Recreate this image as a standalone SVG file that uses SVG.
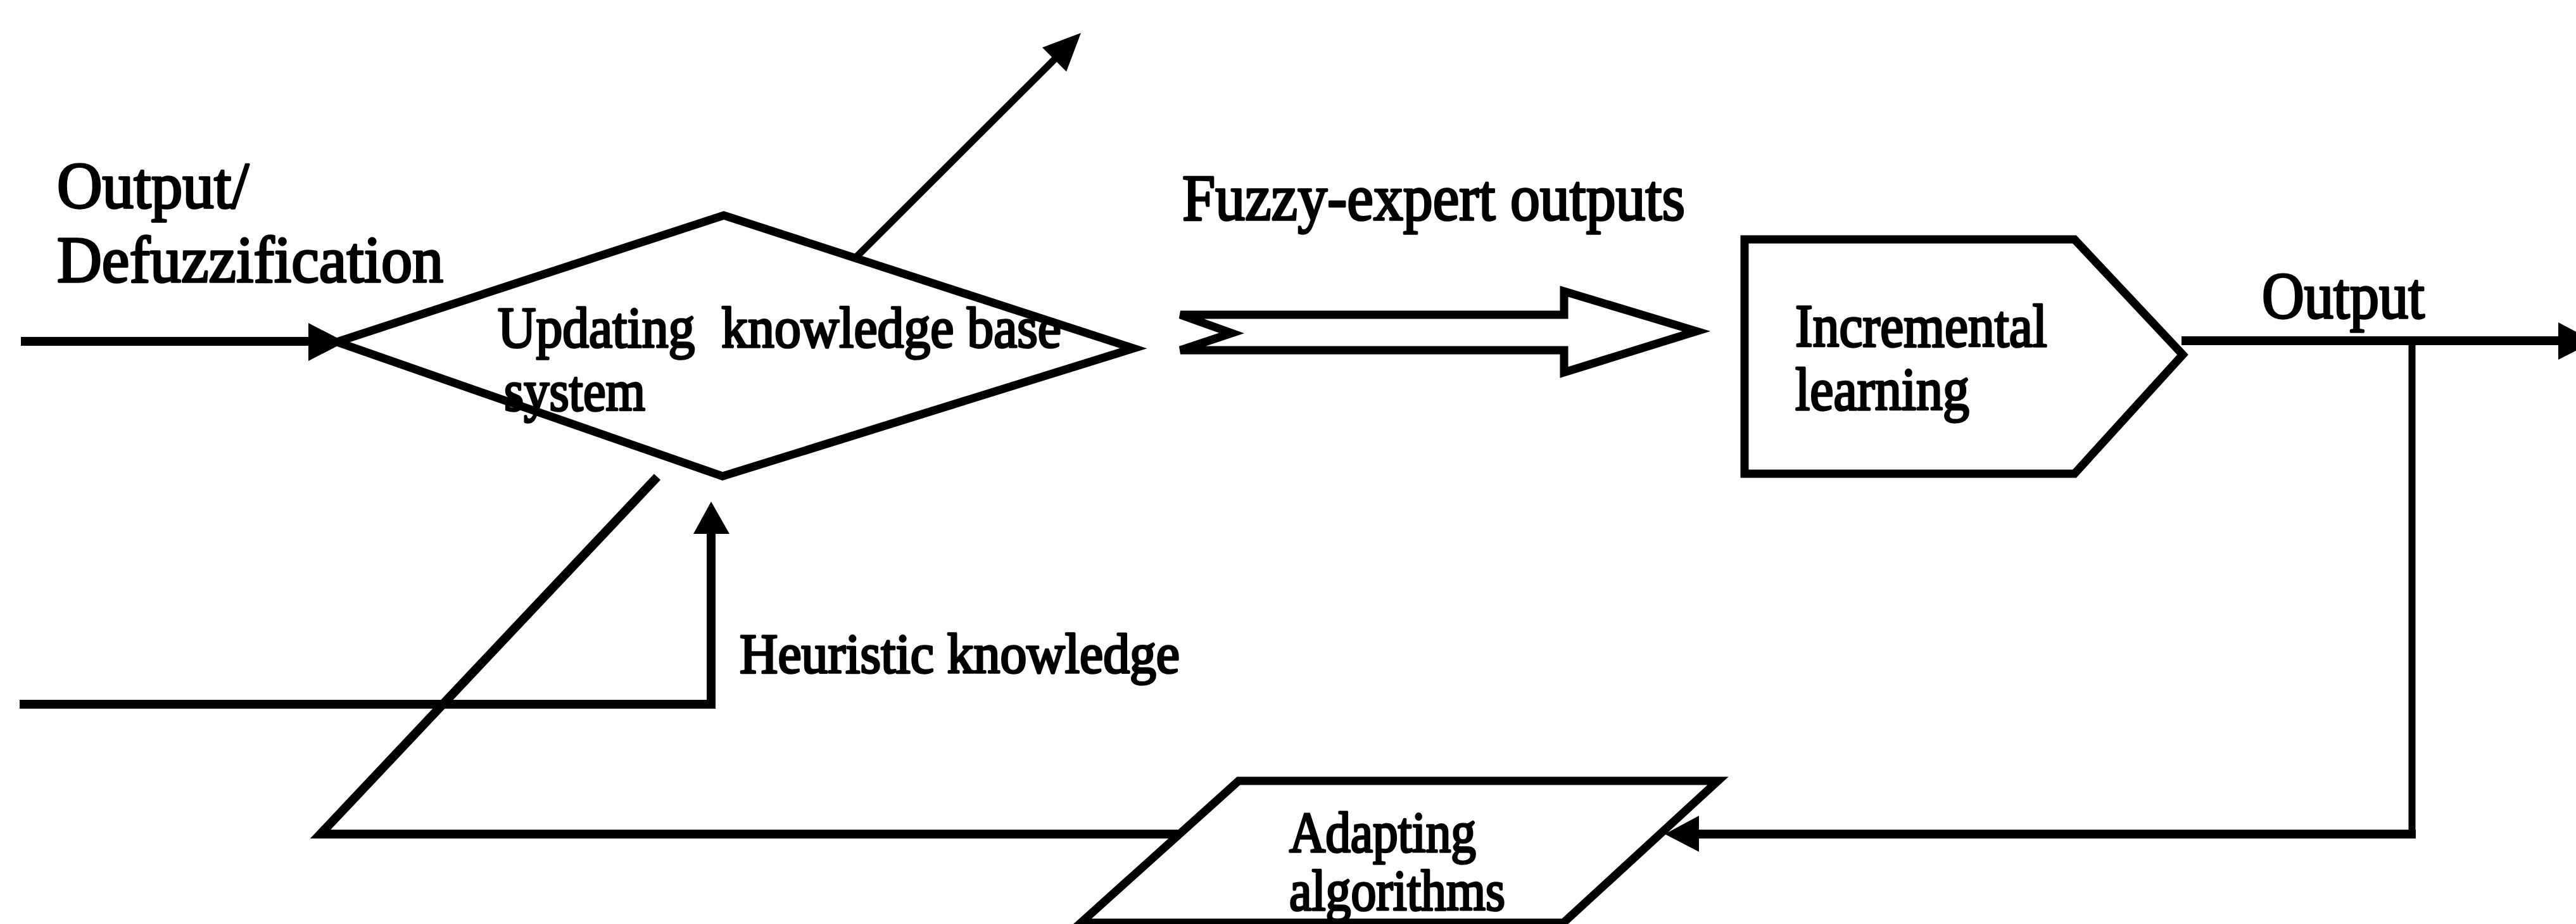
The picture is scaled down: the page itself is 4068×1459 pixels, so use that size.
<svg xmlns="http://www.w3.org/2000/svg" width="4068" height="1459" viewBox="0 0 4068 1459">
<style>
.shape{fill:#fff;stroke:#000;stroke-width:13;stroke-linejoin:miter}
.ln{fill:none;stroke:#000;stroke-width:14;stroke-linecap:butt;stroke-linejoin:miter}
.thin{fill:none;stroke:#000;stroke-width:11}
.head{fill:#000;stroke:none}
.t{font-family:"Liberation Serif","Times New Roman",serif;font-weight:normal;fill:#000;stroke:#000;stroke-width:3.5;stroke-linejoin:round}
</style>
<rect width="4068" height="1459" fill="#fff"/>
<g id="connectors">
  <line class="ln" x1="33" y1="539" x2="495" y2="539"/>
  <polygon class="head" points="487,510 545,540 487,570"/>
  <line class="thin" x1="1333" y1="425" x2="1675" y2="84"/>
  <polygon class="head" points="1707,52 1646,75 1684,113"/>
  <polyline class="ln" points="31,1112 1123,1112 1123,838"/>
  <polygon class="head" points="1095,843 1123,792 1152,843"/>
  <polyline class="ln" points="1864,1317 506,1317 1038,753"/>
  <polygon class="shape" points="1864,497 2470,497 2470,460 2679,523 2470,588 2470,553 1864,553 1945,526"/>
  <line class="ln" x1="3445" y1="538" x2="4050" y2="538"/>
  <polygon class="head" points="4040,509 4097,539 4040,568"/>
  <polyline class="thin" points="3809,538 3809,1317"/>
  <line class="ln" x1="3815" y1="1317" x2="2675" y2="1317"/>
  <polygon class="head" points="2683,1288 2629,1317 2683,1345"/>
</g>
<g id="node-updating">
  <polygon class="shape" points="532,540 1143,340 1790,550 1141,752"/>
  <text class="t" xml:space="preserve" x="786" y="548" font-size="92" textLength="890" lengthAdjust="spacingAndGlyphs">Updating  knowledge base</text>
  <text class="t" x="796" y="648" font-size="92" textLength="223" lengthAdjust="spacingAndGlyphs">system</text>
</g>
<g id="node-incremental">
  <polygon class="shape" points="2755,378 3276,378 3447,560 3276,748 2755,748"/>
  <text class="t" x="2835" y="547" font-size="96" textLength="398" lengthAdjust="spacingAndGlyphs">Incremental</text>
  <text class="t" x="2835" y="647" font-size="96" textLength="275" lengthAdjust="spacingAndGlyphs">learning</text>
</g>
<g id="node-adapting">
  <polygon class="shape" points="1956,1233 2713,1233 2469,1457 1707,1457"/>
  <text class="t" x="2036" y="1345" font-size="90" textLength="295" lengthAdjust="spacingAndGlyphs">Adapting</text>
  <text class="t" x="2036" y="1437" font-size="90" textLength="341" lengthAdjust="spacingAndGlyphs">algorithms</text>
</g>
<g id="labels">
  <text class="t" x="90" y="328" font-size="104" textLength="303" lengthAdjust="spacingAndGlyphs">Output/</text>
  <text class="t" x="90" y="445" font-size="104" textLength="610" lengthAdjust="spacingAndGlyphs">Defuzzification</text>
  <text class="t" x="1867" y="347" font-size="104" textLength="794" lengthAdjust="spacingAndGlyphs">Fuzzy-expert outputs</text>
  <text class="t" x="3572" y="502" font-size="104" textLength="257" lengthAdjust="spacingAndGlyphs">Output</text>
  <text class="t" x="1168" y="1062" font-size="88" textLength="695" lengthAdjust="spacingAndGlyphs">Heuristic knowledge</text>
</g>
</svg>
